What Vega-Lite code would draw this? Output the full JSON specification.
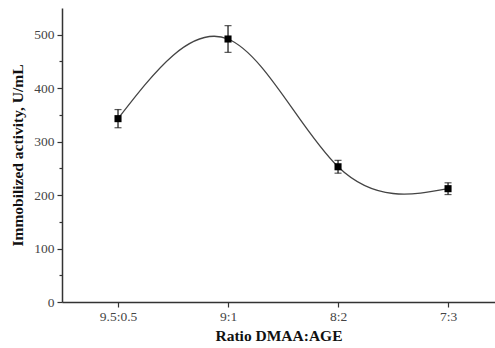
{
  "$schema": "https://vega.github.io/schema/vega-lite/v6.json",
  "width": 433,
  "height": 294,
  "autosize": {"type": "none"},
  "padding": {"left": 62, "top": 8, "right": 0, "bottom": 46},
  "background": "white",
  "config": {
    "view": {"stroke": null},
    "font": "Liberation Serif",
    "axis": {
      "labelFont": "Liberation Serif",
      "titleFont": "Liberation Serif",
      "labelFontSize": 13.5,
      "titleFontSize": 15.5,
      "titleFontWeight": "bold",
      "labelColor": "#444",
      "titleColor": "#111",
      "domainColor": "#333",
      "tickColor": "#333",
      "domainWidth": 1.5,
      "tickWidth": 1.2,
      "grid": false
    }
  },
  "data": {
    "values": [
      {"ratio": "9.5:0.5", "activity": 343, "lo": 326, "hi": 360},
      {"ratio": "9:1", "activity": 492, "lo": 467, "hi": 517},
      {"ratio": "8:2", "activity": 253, "lo": 241, "hi": 265},
      {"ratio": "7:3", "activity": 212, "lo": 201, "hi": 223}
    ]
  },
  "resolve": {"scale": {"y": "independent"}},
  "layer": [
    {
      "mark": {"type": "line", "interpolate": "natural", "color": "#444", "strokeWidth": 1.3},
      "encoding": {
        "x": {"field": "ratio", "type": "ordinal", "sort": null, "scale": {"type": "point", "padding": 0.468, "align": 0.544},
              "axis": {"title": "Ratio DMAA:AGE", "labelAngle": 0, "tickSize": 5, "labelPadding": 2, "titlePadding": 6}},
        "y": {"field": "activity", "type": "quantitative", "scale": {"domain": [0, 550], "nice": false},
              "axis": {"orient": "left", "values": [50, 150, 250, 350, 450], "labels": false, "tickSize": 3, "title": null, "domain": false}}
      }
    },
    {
      "mark": {"type": "rule", "color": "#111", "strokeWidth": 1.2},
      "encoding": {
        "x": {"field": "ratio", "type": "ordinal", "sort": null, "scale": {"type": "point", "padding": 0.468, "align": 0.544}},
        "y": {"field": "lo", "type": "quantitative", "scale": {"domain": [0, 550], "nice": false}, "axis": null},
        "y2": {"field": "hi"}
      }
    },
    {
      "mark": {"type": "tick", "color": "#111", "size": 7, "thickness": 1.2, "orient": "horizontal"},
      "encoding": {
        "x": {"field": "ratio", "type": "ordinal", "sort": null, "scale": {"type": "point", "padding": 0.468, "align": 0.544}},
        "y": {"field": "lo", "type": "quantitative", "scale": {"domain": [0, 550], "nice": false}, "axis": null}
      }
    },
    {
      "mark": {"type": "tick", "color": "#111", "size": 7, "thickness": 1.2, "orient": "horizontal"},
      "encoding": {
        "x": {"field": "ratio", "type": "ordinal", "sort": null, "scale": {"type": "point", "padding": 0.468, "align": 0.544}},
        "y": {"field": "hi", "type": "quantitative", "scale": {"domain": [0, 550], "nice": false}, "axis": null}
      }
    },
    {
      "mark": {"type": "point", "shape": "square", "filled": true, "color": "#000", "size": 50, "opacity": 1},
      "encoding": {
        "x": {"field": "ratio", "type": "ordinal", "sort": null, "scale": {"type": "point", "padding": 0.468, "align": 0.544}},
        "y": {"field": "activity", "type": "quantitative", "scale": {"domain": [0, 550], "nice": false},
              "axis": {"orient": "left", "values": [0, 100, 200, 300, 400, 500], "tickSize": 5, "labelPadding": 3,
                       "title": "Immobilized activity, U/mL", "titlePadding": 8}}
      }
    }
  ]
}
